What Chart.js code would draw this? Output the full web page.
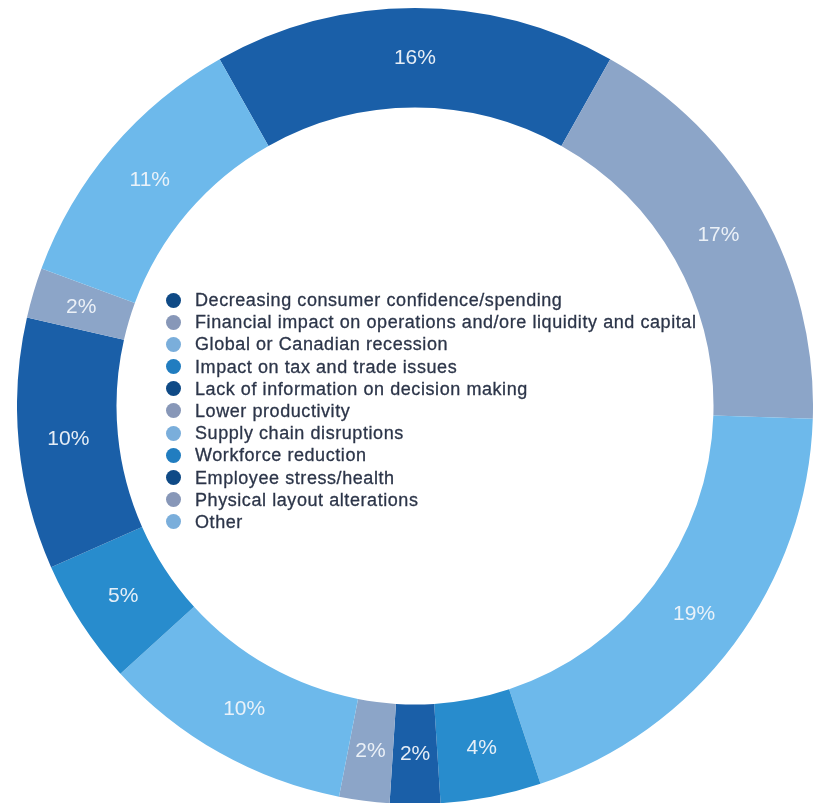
<!DOCTYPE html>
<html>
<head>
<meta charset="utf-8">
<script src="https://cdn.jsdelivr.net/npm/chart.js@4.4.1/dist/chart.umd.min.js"></script>
<style>
html,body{margin:0;padding:0;overflow:hidden;background:#fff;width:817px;height:803px;}
#wrap{position:absolute;left:17px;top:8px;width:796px;height:796px;}
#legend{position:absolute;left:163px;top:289px;margin:0;padding:0;list-style:none;
  font-family:"Liberation Sans",Arial,sans-serif;font-size:18px;letter-spacing:0.57px;color:#2c3549;
  -webkit-text-stroke:0.3px #2c3549;}
#legend li{height:22.2px;line-height:22.2px;white-space:nowrap;position:relative;padding-left:32px;}
#legend li span{position:absolute;left:3px;top:3.5px;width:15px;height:15px;border-radius:50%;}
</style>
</head>
<body>
<div id="wrap"><canvas id="donut"></canvas></div>
<ul id="legend"></ul>
<script>
// ── Data ──
const labels=['Decreasing consumer confidence/spending','Financial impact on operations and/ore liquidity and capital',
  'Global or Canadian recession','Impact on tax and trade issues','Lack of information on decision making',
  'Lower productivity','Supply chain disruptions','Workforce reduction','Employee stress/health',
  'Physical layout alterations','Other'];
const shares=[16,17,19,4,2,2,10,5,10,2,11];

// four-colour cycle: dark, grey, light, medium
const ringColors=['#1a5fa8','#8ca5c8','#6db9eb','#288ccd'];
const dotColors=['#0f4a86','#8797b8','#7aaedb','#217dc0'];
const cyc=(arr)=>labels.map((_,i)=>arr[i%arr.length]);

// ── Percent labels on the ring ──
const ringLabels={
  id:'ringLabels',
  afterDatasetsDraw(chart){
    const ctx=chart.ctx;
    const meta=chart.getDatasetMeta(0);
    ctx.save();
    ctx.font='21px "Liberation Sans", Arial, sans-serif';
    ctx.fillStyle='rgba(240,244,250,0.95)';
    ctx.textAlign='center';ctx.textBaseline='middle';
    meta.data.forEach((arc,i)=>{
      const p=arc.tooltipPosition();
      ctx.fillText(shares[i]+'%',p.x,p.y);
    });
    ctx.restore();
  }
};

new Chart(document.getElementById('donut'),{
  type:'doughnut',
  data:{labels,datasets:[{data:shares,backgroundColor:cyc(ringColors),borderWidth:0,hoverOffset:0}]},
  options:{responsive:true,maintainAspectRatio:false,animation:false,cutout:'75%',rotation:-29.4,
    layout:{padding:0},
    plugins:{legend:{display:false},tooltip:{enabled:false}}},
  plugins:[ringLabels]
});

// ── Legend in the hole ──
const lg=document.getElementById('legend');
labels.forEach((t,i)=>{
  const li=document.createElement('li');
  li.innerHTML='<span style="background:'+dotColors[i%4]+'"></span>'+t;
  lg.appendChild(li);
});
</script>
</body>
</html>
